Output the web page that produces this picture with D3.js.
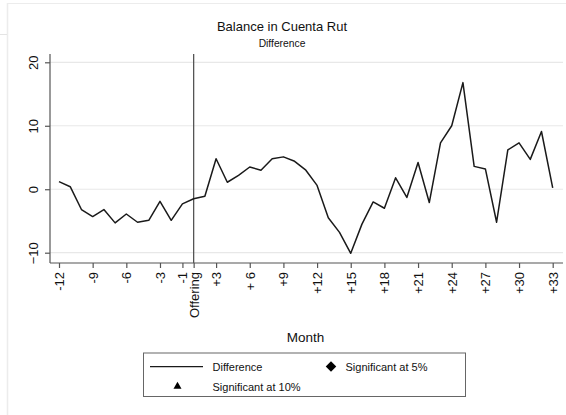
<!DOCTYPE html>
<html>
<head>
<meta charset="utf-8">
<script src="https://cdn.jsdelivr.net/npm/d3@7"></script>
<style>
  body { margin: 0; background: #fff; }
  text { font-family: Arial, "Liberation Sans", Helvetica, sans-serif; fill: #111; }
</style>
</head>
<body>
<svg id="chart" width="566" height="415"></svg>
<script>
// months relative to the offering (1 = Offering)
var months = [-12, -11, -10, -9, -8, -7, -6, -5, -4, -3, -2, -1,
              1, 2, 3, 4, 5, 6, 7, 8, 9, 10, 11, 12, 13, 14, 15, 16, 17,
              18, 19, 20, 21, 22, 23, 24, 25, 26, 27, 28, 29, 30, 31, 32, 33];

// difference in balance
var difference = [1.2, 0.4, -3.2, -4.3, -3.2, -5.3, -3.9, -5.2, -4.9, -1.9, -4.9, -2.3,
                  -1.5, -1.1, 4.8, 1.1, 2.2, 3.5, 3.0, 4.8, 5.1, 4.4, 3.0, 0.6, -4.5,
                  -6.8, -10.1, -5.5, -2.0, -3.0, 1.8, -1.3, 4.2, -2.1, 7.3, 10.0, 16.8,
                  3.6, 3.2, -5.2, 6.2, 7.3, 4.7, 9.1, 0.2];

var xTicks = [-12, -9, -6, -3, -1, 1, 3, 6, 9, 12, 15, 18, 21, 24, 27, 30, 33];
var xTickLabels = ["-12", "-9", "-6", "-3", "-1", "Offering", "+3", "+ 6", "+9", "+12",
                   "+15", "+18", "+21", "+24", "+27", "+30", "+33"];
var yTicks = [-10, 0, 10, 20];

var svg = d3.select("#chart");

// light page frame
svg.append("line").attr("x1", 7.5).attr("x2", 7.5).attr("y1", 3).attr("y2", 415)
  .style("stroke", "#ececec").style("stroke-width", 1.5);
svg.append("line").attr("x1", 7).attr("x2", 566).attr("y1", 3.5).attr("y2", 3.5)
  .style("stroke", "#ececec").style("stroke-width", 1);
svg.append("line").attr("x1", 0).attr("x2", 7).attr("y1", 34.5).attr("y2", 34.5)
  .style("stroke", "#e4e4e4").style("stroke-width", 1);

var x = d3.scalePoint()
  .domain(months)
  .range([59, 552.7]);

var y = d3.scaleLinear()
  .domain([-10, 20])
  .range([252.7, 62.3]);

var plotLeft = 50, plotRight = 563, plotTop = 54, plotBottom = 263;

// gridlines
svg.append("g").selectAll("line")
  .data(yTicks)
  .enter().append("line")
  .attr("x1", plotLeft)
  .attr("x2", plotRight)
  .attr("y1", d => y(d))
  .attr("y2", d => y(d))
  .style("stroke", "#e8e8e8")
  .style("stroke-width", 1.2);

// titles
svg.append("text").attr("x", 282).attr("y", 31)
  .attr("text-anchor", "middle").style("font-size", "13px")
  .text("Balance in Cuenta Rut");
svg.append("text").attr("x", 282).attr("y", 47)
  .attr("text-anchor", "middle").style("font-size", "10.3px")
  .text("Difference");

// y axis
var yAxis = d3.axisLeft(y).tickValues(yTicks).tickSize(5).tickFormat(d3.format("d"));
var gy = svg.append("g")
  .attr("transform", "translate(" + plotLeft + ",0)")
  .call(yAxis);
gy.select(".domain").attr("d", "M0," + plotTop + "V" + plotBottom);
gy.selectAll("line, path").style("stroke", "#555").style("stroke-width", 1.2);
gy.selectAll("text")
  .attr("transform", "rotate(-90)")
  .attr("x", 0)
  .attr("y", -12)
  .attr("dy", 0)
  .attr("text-anchor", "middle")
  .style("font-size", "13px")
  .style("font-family", "Arial, 'Liberation Sans', sans-serif")
  .style("fill", "#111");

// x axis
var xAxis = d3.axisBottom(x).tickValues(xTicks).tickSize(5)
  .tickFormat((d, i) => xTickLabels[i]);
var gx = svg.append("g")
  .attr("transform", "translate(0," + plotBottom + ")")
  .call(xAxis);
gx.select(".domain").attr("d", "M" + plotLeft + ",0H" + plotRight);
gx.selectAll("line, path").style("stroke", "#555").style("stroke-width", 1.2);
gx.selectAll("text")
  .attr("transform", "rotate(-90)")
  .attr("x", -9)
  .attr("y", 0)
  .attr("dy", "0.35em")
  .attr("text-anchor", "end")
  .style("font-size", "13px")
  .style("font-family", "Arial, 'Liberation Sans', sans-serif")
  .style("fill", "#111");

// offering line
svg.append("line")
  .attr("x1", x(1)).attr("x2", x(1))
  .attr("y1", plotTop).attr("y2", plotBottom)
  .style("stroke", "#555").style("stroke-width", 1.3);

// difference line
var line = d3.line()
  .x((d, i) => x(months[i]))
  .y(d => y(d));

svg.append("path")
  .datum(difference)
  .attr("d", line)
  .style("fill", "none")
  .style("stroke", "#1a1a1a")
  .style("stroke-width", 1.5)
  .style("stroke-linejoin", "round");

// x title
svg.append("text").attr("x", 305.5).attr("y", 342)
  .attr("text-anchor", "middle").style("font-size", "13.5px")
  .text("Month");

// legend
var legend = svg.append("g");
legend.append("rect")
  .attr("x", 143.5).attr("y", 353).attr("width", 322).attr("height", 43.5)
  .style("fill", "#fff").style("stroke", "#666").style("stroke-width", 1);
legend.append("line")
  .attr("x1", 150).attr("x2", 203).attr("y1", 366.7).attr("y2", 366.7)
  .style("stroke", "#1a1a1a").style("stroke-width", 1.3);
legend.append("text").attr("x", 212.5).attr("y", 370.5)
  .style("font-size", "11px").text("Difference");
legend.append("path")
  .attr("transform", "translate(331,366.5)")
  .attr("d", d3.symbol().type(d3.symbolDiamond2).size(70))
  .style("fill", "#000");
legend.append("text").attr("x", 345.5).attr("y", 370.5)
  .style("font-size", "11px").text("Significant at 5%");
legend.append("path")
  .attr("transform", "translate(177.5,386.5)")
  .attr("d", d3.symbol().type(d3.symbolTriangle).size(28))
  .style("fill", "#000");
legend.append("text").attr("x", 212.5).attr("y", 390.5)
  .style("font-size", "11px").text("Significant at 10%");
</script>
</body>
</html>
